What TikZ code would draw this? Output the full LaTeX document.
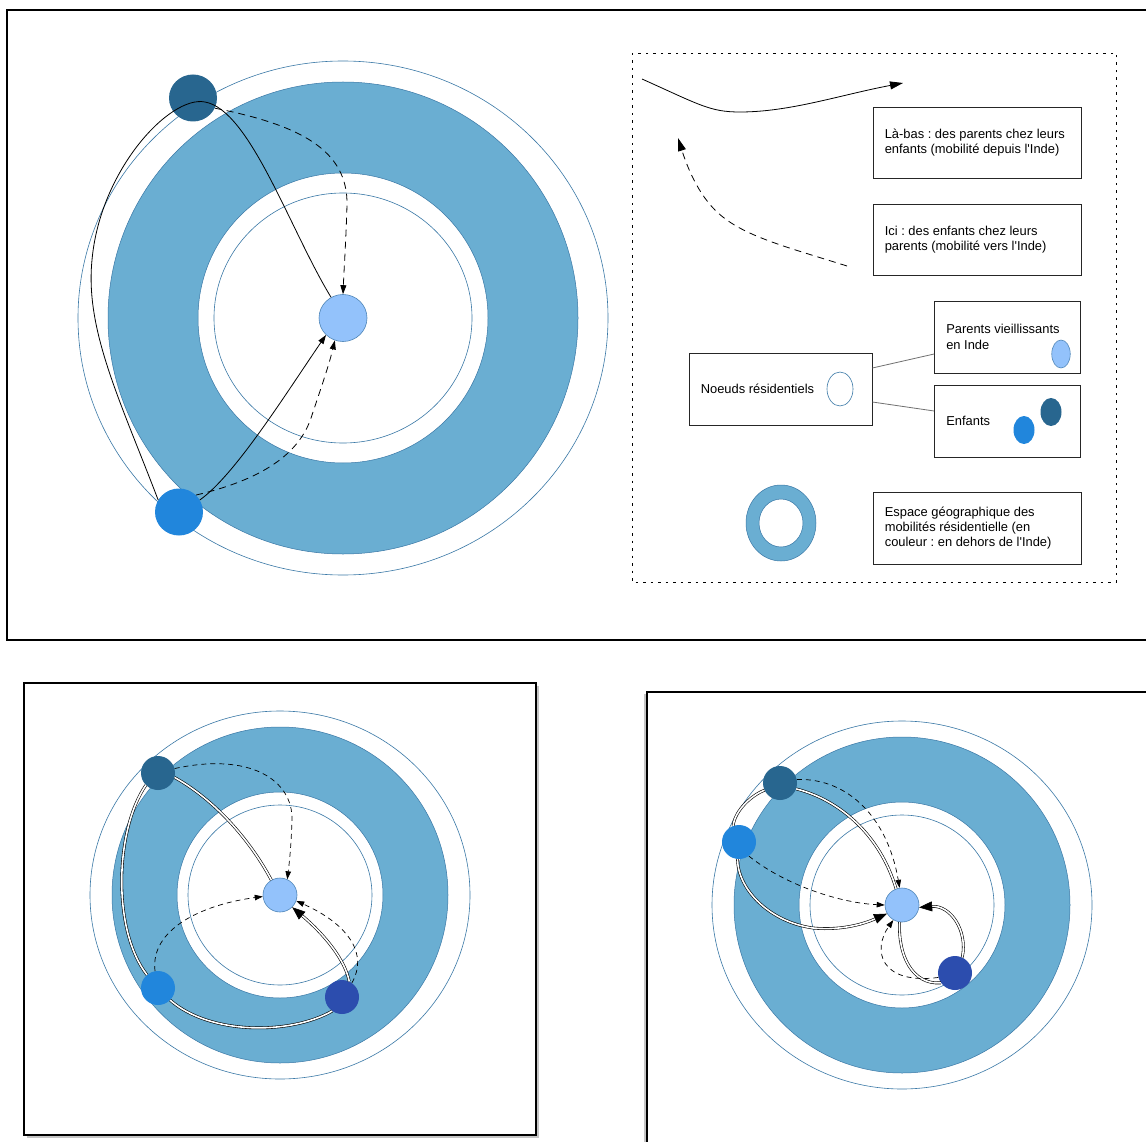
\documentclass[tikz,border=0pt]{standalone}
\usepackage{fontspec}
\setmainfont{Liberation Sans}
\usetikzlibrary{arrows.meta,shapes.geometric,shadows}
\definecolor{ringblue}{HTML}{6AAED2}
\definecolor{ringline}{HTML}{3A78A6}
\definecolor{cdark}{HTML}{28668F}
\definecolor{cbright}{HTML}{2186DC}
\definecolor{clight}{HTML}{93C2FB}
\definecolor{clightb}{HTML}{4F86B8}
\definecolor{cindigo}{HTML}{2C4DAE}
\definecolor{linkgray}{HTML}{707070}
\frenchspacing
\begin{document}
\begin{tikzpicture}[x=1pt,y=-1pt,
  rn/.style={ellipse, inner sep=0pt},
  parentn/.style={rn, fill=clight, draw=clightb, line width=0.6pt},
  childa/.style={rn, fill=cdark},
  childb/.style={rn, fill=cbright},
  childc/.style={rn, fill=cindigo},
  nbig/.style={minimum width=48pt, minimum height=47pt},
  nsmall/.style={minimum width=34pt, minimum height=34pt},
  thinring/.style={draw=ringline, line width=0.6pt},
  band/.style={fill=ringblue, draw=ringline, line width=0.5pt, even odd rule},
  sol/.style={draw=black, line width=0.8pt},
  dsh/.style={draw=black, line width=0.8pt, dash pattern=on 7pt off 5pt},
  dshs/.style={draw=black, line width=0.7pt, dash pattern=on 5pt off 4pt},
  dbl/.style={draw=black, line width=0.6pt, double=white, double distance=1.6pt},
  tip/.style={-{Triangle[length=9pt,width=6pt]}},
  stip/.style={-{Triangle[length=8pt,width=5.5pt]}},
  bigtip/.style={-{Triangle[length=13pt,width=10pt]}},
  legbox/.style={draw=black!85, line width=0.8pt, rectangle, inner sep=0pt},
  legtext/.style={align=left, inner sep=0pt, anchor=west, font=\fontsize{12.9}{15.3}\selectfont},
  frame/.style={draw=black, line width=1.4pt, fill=white}
]
\clip (0,0) rectangle (1146,1142);
\fill[white] (0,0) rectangle (1146,1142);

% ================= TOP PANEL =================
\draw[frame] (7,10) rectangle (1160,640);

\draw[thinring] (343,318) ellipse [x radius=265pt, y radius=257pt];
\filldraw[band] (343,318) ellipse [x radius=235pt, y radius=236pt]
                (343,318) ellipse [x radius=145pt, y radius=145pt];
\draw[thinring] (343,318) ellipse [x radius=129pt, y radius=125pt];

\node[parentn, nbig] (Tc) at (343,318) {};
\node[childa, nbig] (Td) at (193,98) {};
\node[childb, nbig] (Tb) at (179,512) {};

\path[sol] (Tb.150) .. controls (120,400) and (85,330) .. (92,260)
  .. controls (100,170) and (170,95) .. (205,102)
  .. controls (250,110) and (290,230) .. (Tc.120);
\path[dsh, tip] (Td.-25) .. controls (300,125) and (348,150) .. (347,205)
  .. controls (346,240) and (344,270) .. (Tc.north);
\path[sol, tip] (Tb.30) .. controls (235,475) and (285,395) .. (Tc.225);
\path[dsh, tip] (Tb.45) .. controls (260,480) and (300,455) .. (312,415)
  .. controls (322,385) and (329,365) .. (Tc.250);

% legend
\draw[black, line width=0.9pt, dash pattern=on 2.5pt off 5pt] (632,53) rectangle (1116,582);
\coordinate (ls1) at (642,79);
\coordinate (le1) at (903,83);
\path[sol, -{Triangle[length=13pt,width=8pt]}] (ls1) .. controls (700,105) and (710,112) .. (740,112)
  .. controls (790,112) and (840,95) .. (le1);
\coordinate (ls2) at (847,266);
\coordinate (le2) at (678,138);
\path[dsh, -{Triangle[length=13pt,width=8pt]}] (ls2) .. controls (780,245) and (740,235) .. (715,210)
  .. controls (695,190) and (685,160) .. (le2);

\node[legbox, minimum width=208pt, minimum height=71pt] (B1) at (977,142.5) {};
\node[legtext] (T1) at ([xshift=12pt]B1.west) {Là-bas : des parents chez leurs\\enfants (mobilité depuis l\textquotesingle Inde)};
\node[legbox, minimum width=208pt, minimum height=71pt] (B2) at (977,240) {};
\node[legtext] (T2) at ([xshift=12pt]B2.west) {Ici : des enfants chez leurs\\parents (mobilité vers l\textquotesingle Inde)};

\node[legbox, minimum width=146pt, minimum height=72pt] (B3) at (1007.5,337) {};
\node[legtext] (T3) at ([xshift=12pt]B3.west) {Parents vieillissants\\en Inde};
\node[parentn, minimum width=18.5pt, minimum height=28pt] (P3) at (1061,354) {};

\node[legbox, minimum width=183pt, minimum height=72pt] (B4) at (780.5,389) {};
\node[legtext] (T4) at ([xshift=12pt]B4.west) {Noeuds résidentiels};
\node[rn, draw=ringline, line width=0.6pt, fill=white, minimum width=26pt, minimum height=34pt] (P4) at (840,389) {};

\node[legbox, minimum width=146pt, minimum height=72pt] (B5) at (1007.5,421) {};
\node[legtext] (T5) at ([xshift=12pt]B5.west) {Enfants};
\node[childb, minimum width=21pt, minimum height=28pt] (P5a) at (1024,430) {};
\node[childa, minimum width=21pt, minimum height=28pt] (P5b) at (1051,412) {};

\draw[linkgray, line width=0.8pt] ([yshift=21pt]B4.east) -- ([yshift=-17pt]B3.west);
\draw[linkgray, line width=0.8pt] ([yshift=-13pt]B4.east) -- ([yshift=10pt]B5.west);

\filldraw[band] (781,523) ellipse [x radius=35pt, y radius=38pt]
                (781,523) ellipse [x radius=22pt, y radius=24pt];

\node[legbox, minimum width=208pt, minimum height=72pt] (B6) at (977,528) {};
\node[legtext] (T6) at ([xshift=12pt]B6.west) {Espace géographique des\\mobilités résidentielle (en\\couleur : en dehors de l\textquotesingle Inde)};

% ================= BOTTOM LEFT PANEL =================
\draw[frame, drop shadow={shadow xshift=3pt, shadow yshift=-3pt, opacity=0.45}] (24,683) rectangle (536,1135);

\draw[thinring] (280,895) ellipse [x radius=190pt, y radius=184pt];
\filldraw[band] (280,895) ellipse [x radius=168pt, y radius=168pt]
                (280,895) ellipse [x radius=103pt, y radius=103pt];
\draw[thinring] (280,895) ellipse [x radius=92pt, y radius=90pt];

\node[parentn, nsmall] (Lc) at (280,895) {};
\node[childa, nsmall] (Ld) at (158,773) {};
\node[childb, nsmall] (Lb) at (158,988) {};
\node[childc, nsmall] (Li) at (342,997) {};

\path[dbl] (Ld.225) .. controls (115,830) and (112,930) .. (Lb.130);
\path[dbl] (Lb.-45) .. controls (210,1035) and (290,1035) .. (Li.235);
\path[dbl] (Ld.-15) .. controls (215,800) and (250,840) .. (Lc.120);
\path[dbl, bigtip] (Li.65) .. controls (345,960) and (325,935) .. (Lc.-45);
\path[dshs, stip] (Ld.15) .. controls (250,752) and (293,780) .. (292,820)
  .. controls (291,850) and (289,865) .. (Lc.65);
\path[dshs, stip] (Lb.100) .. controls (150,930) and (200,905) .. (Lc.185);
\path[dshs, stip] (Li.55) .. controls (368,955) and (350,925) .. (Lc.-20);

% ================= BOTTOM RIGHT PANEL =================
\draw[frame, drop shadow={shadow xshift=-3pt, shadow yshift=-2pt, opacity=0.45}] (647,692) rectangle (1170,1170);

\draw[thinring] (902,905) ellipse [x radius=190pt, y radius=184pt];
\filldraw[band] (902,905) ellipse [x radius=168pt, y radius=168pt]
                (902,905) ellipse [x radius=103pt, y radius=103pt];
\draw[thinring] (902,905) ellipse [x radius=92pt, y radius=90pt];

\node[parentn, nsmall] (Rc) at (902,905) {};
\node[childa, nsmall] (Rd) at (780,783) {};
\node[childb, nsmall] (Rb) at (739,842) {};
\node[childc, nsmall] (Ri) at (955,973) {};

\path[dbl] (Rd.205) .. controls (752,795) and (735,810) .. (Rb.110);
\path[dbl, bigtip] (Rb.265) .. controls (738,890) and (770,922) .. (813,928)
  .. controls (845,931) and (868,922) .. (Rc.210);
\path[dbl] (Rd.-20) .. controls (840,800) and (880,835) .. (Rc.110);
\path[dshs, stip] (Rd.12) .. controls (850,778) and (888,820) .. (Rc.98);
\path[dshs, stip] (Rb.-55) .. controls (785,885) and (840,903) .. (Rc.180);
\path[dbl] (Rc.262) .. controls (898,955) and (912,985) .. (Ri.215);
\path[dbl, bigtip] (Ri.65) .. controls (968,930) and (950,905) .. (Rc.-8);
\path[dshs, stip] (Ri.195) .. controls (880,985) and (872,950) .. (Rc.240);
\end{tikzpicture}
\end{document}
